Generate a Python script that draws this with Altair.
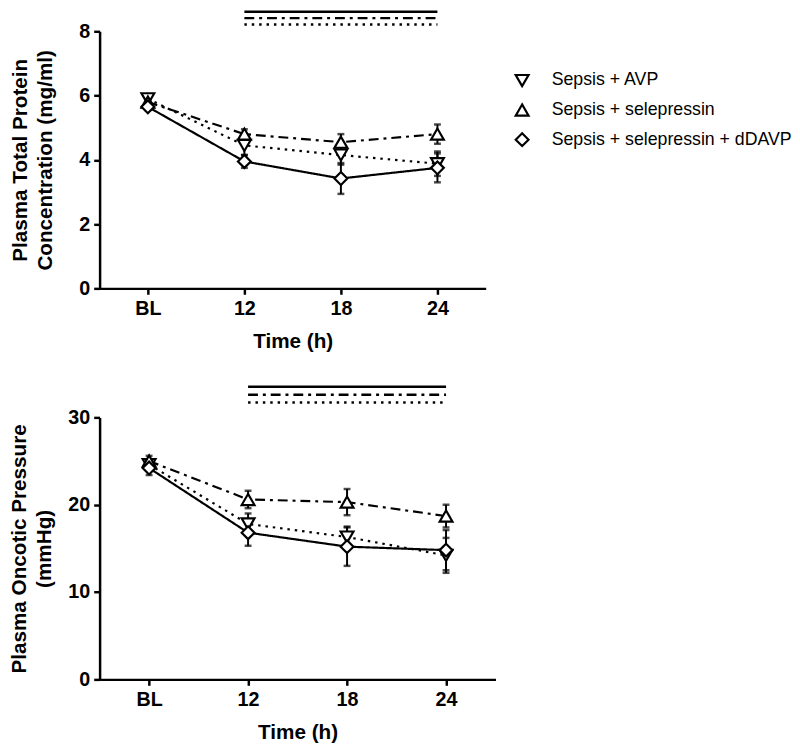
import altair as alt
import pandas as pd

# ---------------- data ----------------
times = ["BL", "12", "18", "24"]
series = ["Sepsis + AVP", "Sepsis + selepressin", "Sepsis + selepressin + dDAVP"]

# Plasma total protein concentration (mg/ml): mean and error
protein_avp_mean = [5.90, 4.45, 4.15, 3.88]
protein_avp_err = [0.10, 0.30, 0.30, 0.38]
protein_sel_mean = [5.80, 4.80, 4.55, 4.80]
protein_sel_err = [0.10, 0.15, 0.25, 0.30]
protein_dd_mean = [5.65, 3.95, 3.42, 3.75]
protein_dd_err = [0.10, 0.20, 0.48, 0.45]

# Plasma oncotic pressure (mmHg): mean and error
oncotic_avp_mean = [24.6, 17.8, 16.3, 14.2]
oncotic_avp_err = [0.5, 1.2, 1.2, 2.0]
oncotic_sel_mean = [25.0, 20.6, 20.3, 18.7]
oncotic_sel_err = [0.6, 1.0, 1.5, 1.3]
oncotic_dd_mean = [24.2, 16.8, 15.2, 14.8]
oncotic_dd_err = [0.8, 1.5, 2.2, 2.3]

# significance bars (from 12 h to 24 h), one per group, drawn above each panel
sig_start = "12"
sig_end = "24"
protein_sig_level = [8.21, 8.41, 8.61]   # AVP (dotted), selepressin (dash-dot), dDAVP (solid)
oncotic_sig_level = [31.7, 32.6, 33.5]

shapes = ["triangle-down", "triangle-up", "diamond"]
colors = ["black", "black", "black"]
dashes = [[2.5, 5], [10, 5, 3, 5], [1, 0]]

FONT = "Liberation Sans"


def long_df(means, errs):
    rows = []
    for s, m, e in zip(series, means, errs):
        for i, t in enumerate(times):
            rows.append({"series": s, "group": s, "time": t, "idx": i, "mean": m[i],
                         "lo": m[i] - e[i], "hi": m[i] + e[i]})
    return pd.DataFrame(rows)


def sig_df(levels):
    return pd.DataFrame({"series": series, "group": series, "level": levels,
                         "x0": [times.index(sig_start)] * 3,
                         "x1": [times.index(sig_end)] * 3})


protein_df = long_df([protein_avp_mean, protein_sel_mean, protein_dd_mean],
                     [protein_avp_err, protein_sel_err, protein_dd_err])
oncotic_df = long_df([oncotic_avp_mean, oncotic_sel_mean, oncotic_dd_mean],
                     [oncotic_avp_err, oncotic_sel_err, oncotic_dd_err])

label_expr = "[" + ",".join("'%s'" % t for t in times) + "][datum.value]"

legend_def = alt.Legend(orient="none", legendX=420, legendY=41, title=None,
                        labelFontSize=18, labelFont=FONT, labelFontWeight="normal",
                        labelColor="black", labelLimit=400,
                        symbolSize=170, symbolStrokeWidth=2.2, symbolFillColor="white",
                        symbolStrokeColor="black", symbolOpacity=1,
                        rowPadding=8, labelOffset=21, padding=0)


def panel(df, sdf, ydom, yticks, ytitle, w, h, tpad):
    xenc = alt.X("idx:Q", scale=alt.Scale(domain=[-0.5, 3.5], nice=False, zero=False),
                 axis=alt.Axis(values=[0, 1, 2, 3], labelExpr=label_expr, title="Time (h)",
                               labelPadding=5, titlePadding=12))
    yscale = alt.Scale(domain=ydom, nice=False, zero=False)
    yaxis = alt.Axis(values=yticks, title=ytitle, titlePadding=tpad, labelPadding=4)
    # strokeDash uses its own field (sorted, same order as `series`) so its
    # hidden legend is not merged with the shape legend
    dash_enc = alt.StrokeDash("group:N", scale=alt.Scale(range=dashes), legend=None)
    shape_enc = alt.Shape("series:N", scale=alt.Scale(domain=series, range=shapes), legend=legend_def)
    color_enc = alt.Color("series:N", scale=alt.Scale(domain=series, range=colors), legend=legend_def)

    lines = alt.Chart(df).mark_line(color="black", strokeWidth=2.2).encode(
        x=xenc, y=alt.Y("mean:Q", scale=yscale, axis=yaxis), strokeDash=dash_enc,
        detail="series:N")
    bars = alt.Chart(df).mark_rule(color="black", strokeWidth=2).encode(
        x="idx:Q", y="lo:Q", y2="hi:Q")
    cap_lo = alt.Chart(df).mark_tick(color="black", thickness=2.5, size=7, orient="horizontal").encode(
        x="idx:Q", y="lo:Q")
    cap_hi = alt.Chart(df).mark_tick(color="black", thickness=2.5, size=7, orient="horizontal").encode(
        x="idx:Q", y="hi:Q")
    pts = alt.Chart(df).mark_point(filled=False, fill="white", fillOpacity=1,
                                   strokeWidth=2.2, size=170, opacity=1).encode(
        x="idx:Q", y="mean:Q", shape=shape_enc, color=color_enc)
    sig = alt.Chart(sdf).mark_rule(color="black", strokeWidth=2.5, clip=False).encode(
        x="x0:Q", x2="x1:Q", y="level:Q", strokeDash=dash_enc)
    return alt.layer(lines, bars, cap_lo, cap_hi, pts, sig).properties(width=w, height=h)


top = panel(protein_df, sig_df(protein_sig_level), [0, 8], [0, 2, 4, 6, 8],
            ["Plasma Total Protein", "Concentration (mg/ml)"], 392, 261, 24)
bottom = panel(oncotic_df, sig_df(oncotic_sig_level), [0, 30], [0, 10, 20, 30],
               ["Plasma Oncotic Pressure", "(mmHg)"], 402, 266, 14)

chart = alt.vconcat(top, bottom, spacing=34).properties(
    padding={"left": 0, "top": -4, "right": 0, "bottom": 0}
).configure(font=FONT).configure_view(stroke=None).configure_axis(
    domainColor="black", domainWidth=2.5, tickColor="black", tickWidth=2.5, tickSize=6,
    grid=False, labelFont=FONT, labelFontSize=20, labelFontWeight="bold", labelColor="black",
    titleFont=FONT, titleFontSize=21, titleFontWeight="bold", titleColor="black",
    titleLineHeight=25
)

chart.save("out.html", embed_options={"renderer": "svg", "actions": False})
